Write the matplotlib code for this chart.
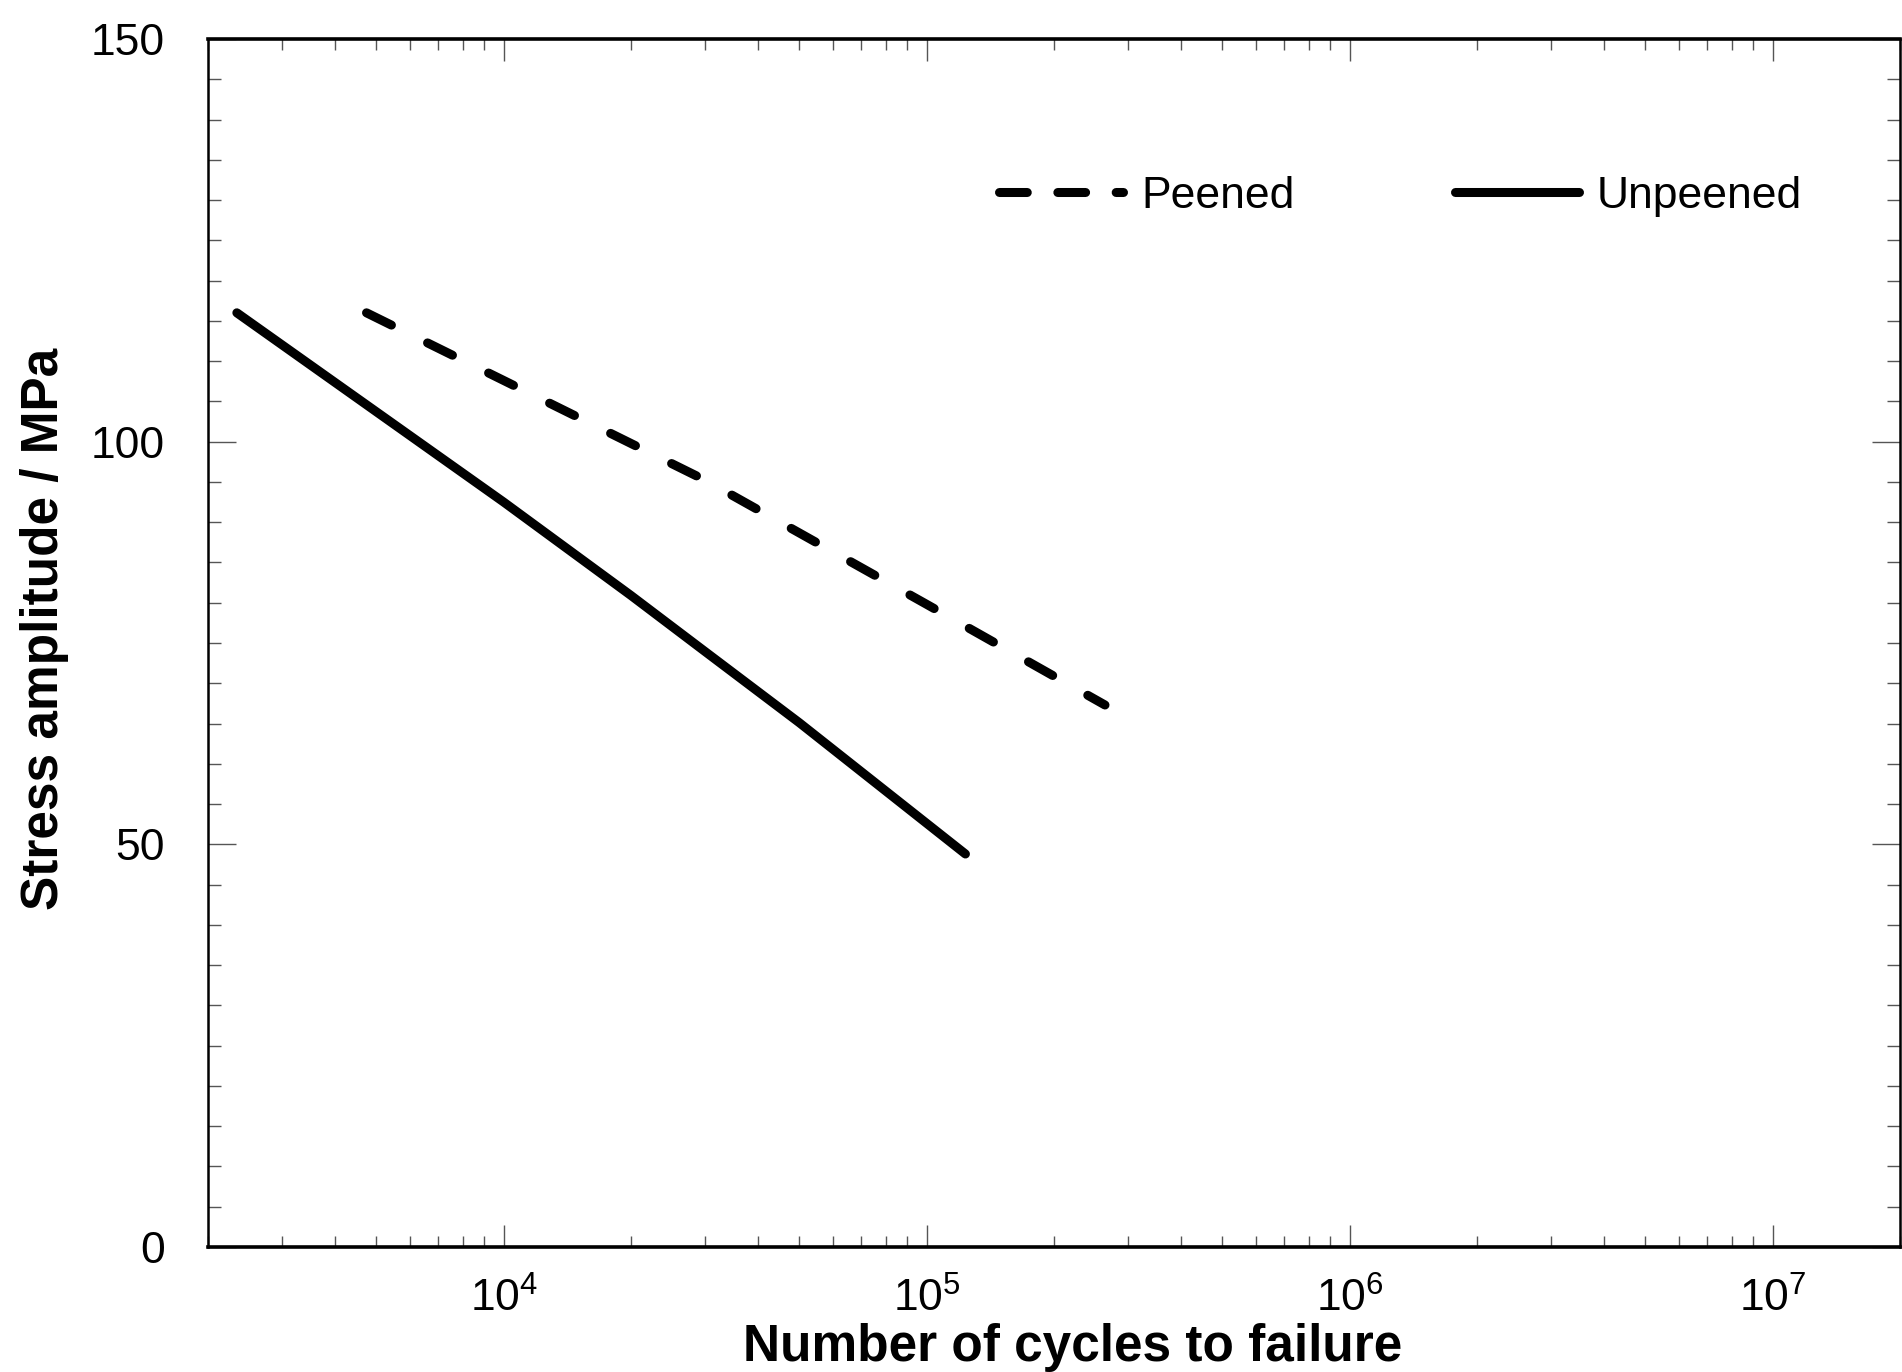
import math
import matplotlib
matplotlib.use('Agg')
import matplotlib.pyplot as plt
from matplotlib.lines import Line2D
from matplotlib.ticker import FixedLocator, MultipleLocator, LogLocator, FuncFormatter, NullFormatter

plt.rcParams['font.family'] = ['Liberation Sans', 'DejaVu Sans']
plt.rcParams['mathtext.fontset'] = 'custom'
plt.rcParams['mathtext.rm'] = 'Liberation Sans'
plt.rcParams['lines.scale_dashes'] = False

# S-N curves (cycles, MPa)
unpeened_cycles = [2340, 1.0e4, 2.0e4, 3.0e4, 5.0e4, 1.235e5]
unpeened_stress = [116.0, 92.5, 80.9, 73.9, 65.1, 48.8]

peened_cycles = [4740, 1.0e4, 3.0e4, 1.0e5, 2.64e5]
peened_stress = [116.0, 107.6, 95.2, 79.8, 67.3]

x_major = [1e4, 1e5, 1e6, 1e7]
y_major = [0, 50, 100, 150]

fig = plt.figure(figsize=(19.02, 13.72), dpi=100)
ax = fig.add_axes([208 / 1902, 1 - 1247 / 1372, 1692 / 1902, 1208 / 1372])

lw = 6.5
ax.plot(peened_cycles, peened_stress, color='black', lw=lw,
        linestyle=(0, (20, 29)), dash_capstyle='round')
ax.plot(unpeened_cycles, unpeened_stress, color='black', lw=lw,
        solid_capstyle='round', solid_joinstyle='round')

ax.set_xscale('log')
ax.set_xlim(2e3, 2e7)
ax.set_ylim(0, 150)

ax.xaxis.set_major_locator(FixedLocator(x_major))
ax.xaxis.set_minor_locator(LogLocator(base=10, subs=range(2, 10), numticks=20))
ax.xaxis.set_major_formatter(FuncFormatter(lambda v, p: r'$\mathregular{10^{%d}}$' % round(math.log10(v))))
ax.xaxis.set_minor_formatter(NullFormatter())
ax.yaxis.set_major_locator(FixedLocator(y_major))
ax.yaxis.set_minor_locator(MultipleLocator(5))

ax.tick_params(axis='both', which='both', direction='in', top=True, right=True,
               width=1.0, color='#555555', labelsize=32)
ax.tick_params(axis='x', which='major', length=16, pad=22)
ax.tick_params(axis='x', which='minor', length=8)
ax.tick_params(axis='y', which='major', length=20, pad=31)
ax.tick_params(axis='y', which='minor', length=9.5)

for side in ['top', 'bottom']:
    ax.spines[side].set_linewidth(2.6)
for side in ['left', 'right']:
    ax.spines[side].set_linewidth(1.8)

ax.set_xlabel('Number of cycles to failure', fontsize=37, fontweight='bold', va='top')
ax.xaxis.set_label_coords(0.511, -0.063)
ax.set_ylabel('Stress amplitude / MPa', fontsize=37, fontweight='bold')
ax.yaxis.set_label_coords(-0.082, 0.512)

handles = [
    Line2D([], [], color='black', lw=lw, linestyle=(0, (20.0, 22.0)), dash_capstyle='round'),
    Line2D([], [], color='black', lw=lw, solid_capstyle='round'),
]
ax.legend(handles, ['Peened', 'Unpeened'], ncol=2, loc='center left',
          bbox_to_anchor=(0.4675, 0.870), frameon=False, fontsize=32,
          handlelength=2.8, handletextpad=0.4, columnspacing=3.6,
          borderpad=0, borderaxespad=0)

fig.savefig('out.png', dpi=100)
